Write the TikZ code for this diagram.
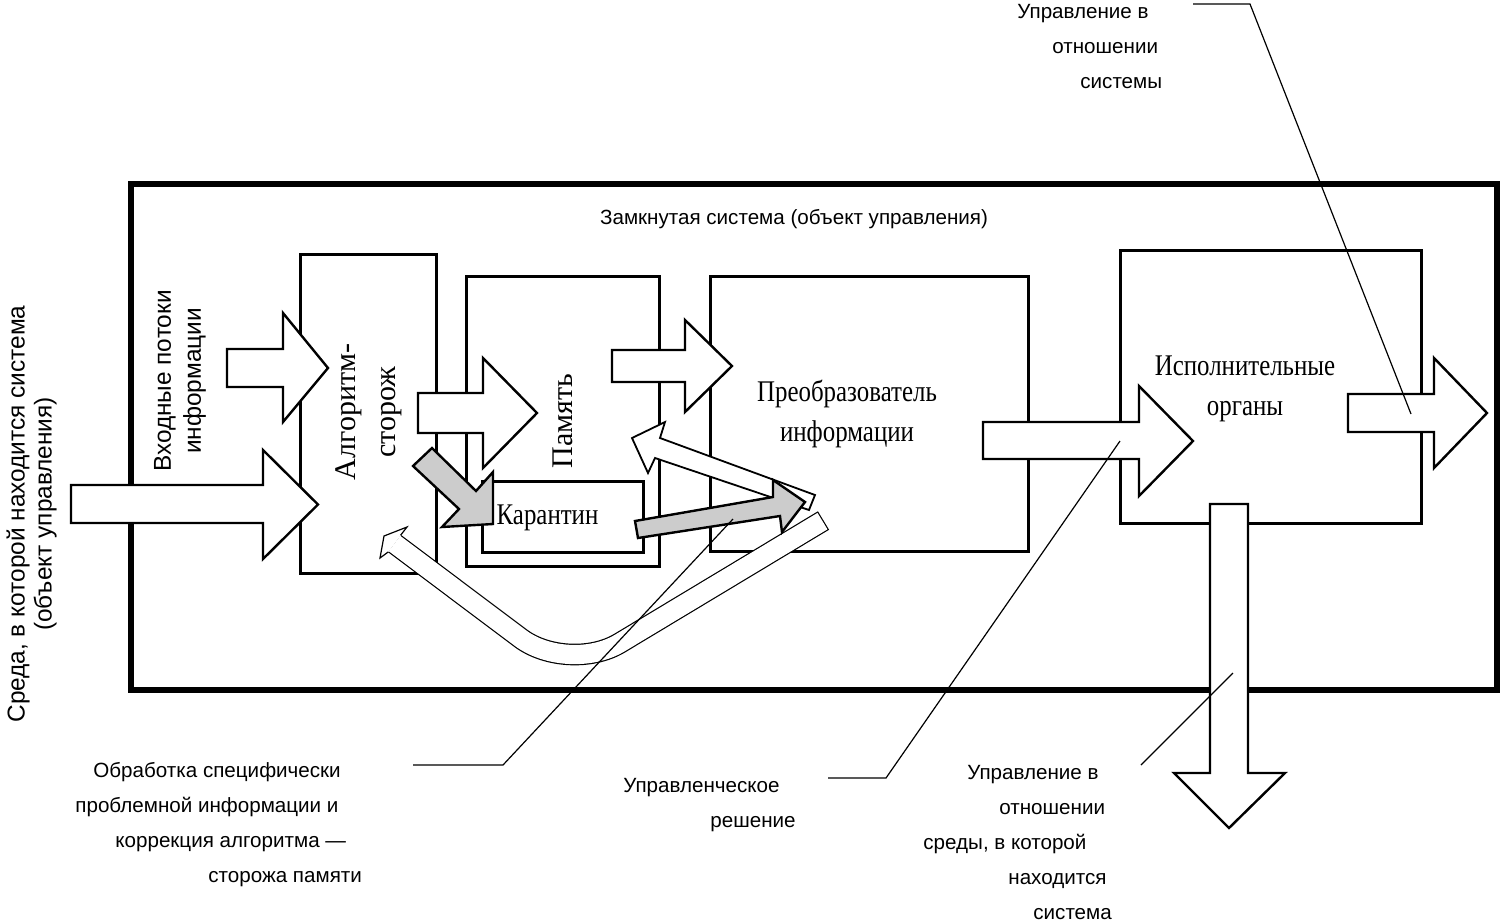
\documentclass[tikz,border=0pt]{standalone}
\usepackage{fontspec}
\setmainfont{Liberation Sans}
\newfontfamily\serifn[FakeStretch=0.83]{Liberation Serif}
\newfontfamily\serifw{Liberation Serif}
\begin{document}
\begin{tikzpicture}[x=0.5pt,y=-0.5pt,
  box/.style={draw, line width=1.5pt, inner sep=0pt, outer sep=0pt},
  blk/.style={draw, fill=white, line width=1.2pt, line join=miter},
  gblk/.style={draw, fill=gray!40, line width=1.2pt, line join=miter},
  thinblk/.style={draw, fill=white, line width=0.9pt, line join=miter},
  lead/.style={line width=0.6pt},
  lab/.style={font=\fontsize{10.3}{17.5}\selectfont, inner sep=0pt, anchor=base west},
  rlab/.style={inner sep=0pt, align=center, rotate=90},
  ser/.style={font=\serifn\fontsize{15}{20}\selectfont, inner sep=0pt, align=center},
  rser/.style={font=\serifw\fontsize{15}{20}\selectfont, inner sep=0pt, align=center, rotate=90}
]
\useasboundingbox (0,0) rectangle (1500,923);

% boxes
\node[box, line width=3pt, minimum width=683pt, minimum height=253pt] (sys) at (814,437) {};
\node[box, minimum width=68pt, minimum height=159.5pt] (alg) at (368,413.5) {};
\node[box, minimum width=96.5pt, minimum height=145pt] (mem) at (562.5,421) {};
\node[box, minimum width=80.5pt, minimum height=35.5pt] (kar) at (562.5,516.5) {};
\node[box, minimum width=159pt, minimum height=137.5pt] (conv) at (869,413.5) {};
\node[box, minimum width=150.5pt, minimum height=136.5pt] (exec) at (1270.5,386.5) {};

% white block arrows
\draw[blk] (71,485)--(263,485)--(263,450)--(318,504.5)--(263,559)--(263,523)--(71,523)--cycle;
\draw[blk] (227,349)--(283,349)--(283,313)--(328,368)--(283,422)--(283,387)--(227,387)--cycle;
\draw[blk] (418,393)--(483,393)--(483,358)--(537,413)--(483,468)--(483,433)--(418,433)--cycle;
\draw[blk] (612,350)--(685,350)--(685,320)--(732,366)--(685,412)--(685,382)--(612,382)--cycle;
\draw[blk] (983,422)--(1139,422)--(1139,386)--(1193,441)--(1139,496)--(1139,459)--(983,459)--cycle;
\draw[blk] (1348,394)--(1434,394)--(1434,358)--(1487,413)--(1434,468)--(1434,432)--(1348,432)--cycle;
\draw[blk] (1210,504)--(1248,504)--(1248,773)--(1285,773)--(1229,828)--(1174,773)--(1210,773)--cycle;

% curved feedback band
\coordinate (bR) at (823.5,520.5);
\coordinate (bV) at (568.3,674);
\coordinate (bL) at (394.5,543.5);
\draw[line width=10.8pt, rounded corners=30pt] (bR) -- (bV) -- (bL);
\draw[white, line width=9.6pt, rounded corners=30pt, shorten <=0.6pt] (bR) -- (bV) -- (bL);
\filldraw[fill=white, line width=0.6pt, line join=miter] (400.7,535.1) -- (407,527) -- (384,536) -- (380,558) -- (388.3,551.9);

% back arrow to memory
\draw[thinblk] (815,495)--(660,438)--(665,422)--(632,438)--(648,473)--(655,458)--(809,510)--cycle;

% gray arrows
\draw[gblk] (413,466)--(432,448)--(476,491)--(493,472)--(493,524)--(442,527)--(459,509)--cycle;
\draw[gblk] (635,521)--(773,497)--(773,480)--(805,502)--(782,532)--(780,516)--(638,538)--cycle;

% leader lines
\coordinate (l1a) at (413,765); \coordinate (l1b) at (503,765); \coordinate (l1c) at (733,519);
\coordinate (l2a) at (828,778); \coordinate (l2b) at (886,778); \coordinate (l2c) at (1120,441);
\coordinate (l3a) at (1193,4);  \coordinate (l3b) at (1250,4);  \coordinate (l3c) at (1411,414);
\coordinate (l4a) at (1141,765); \coordinate (l4b) at (1233,673);
\draw[lead] (l1a) -- (l1b) -- (l1c);
\draw[lead] (l2a) -- (l2b) -- (l2c);
\draw[lead] (l3a) -- (l3b) -- (l3c);
\draw[lead] (l4a) -- (l4b);

% texts
\node[inner sep=0pt, font=\fontsize{10.3}{12}\selectfont] (title) at (794,219) {Замкнутая система (объект управления)};
\node[rlab, font=\fontsize{12.2}{13.5}\selectfont] (env) at (31.5,514) {Среда, в которой находится система\\(объект управления)};
\node[rlab, font=\fontsize{12.2}{15}\selectfont] (inp) at (180,381) {Входные потоки\\информации};
\node[rser] (algt) at (369,412) {Алгоритм-\\сторож};
\node[rser] (memt) at (562.5,421) {Память};
\node[ser] (kart) at (547.5,518) {Карантин};
\node[ser] (convt) at (847,414) {Преобразователь\\информации};
\node[ser] (exect) at (1245,389) {Исполнительные\\органы};

\node[lab] (t1) at (75,777) {\begin{tabular}[t]{@{}l@{}}\hspace*{9pt}Обработка специфически\\проблемной информации и\\\hspace*{20pt}коррекция алгоритма —\\\hspace*{66.5pt}сторожа памяти\end{tabular}};
\node[lab] (t2) at (623,792) {\begin{tabular}[t]{@{}l@{}}Управленческое\\\hspace*{43.5pt}решение\end{tabular}};
\node[lab] (t3) at (923,779) {\begin{tabular}[t]{@{}l@{}}\hspace*{22pt}Управление в\\\hspace*{38pt}отношении\\среды, в которой\\\hspace*{42.5pt}находится\\\hspace*{55pt}система\end{tabular}};
\node[lab] (t4) at (1017,18) {\begin{tabular}[t]{@{}l@{}}Управление в\\\hspace*{17.5pt}отношении\\\hspace*{31.5pt}системы\end{tabular}};
\end{tikzpicture}
\end{document}
